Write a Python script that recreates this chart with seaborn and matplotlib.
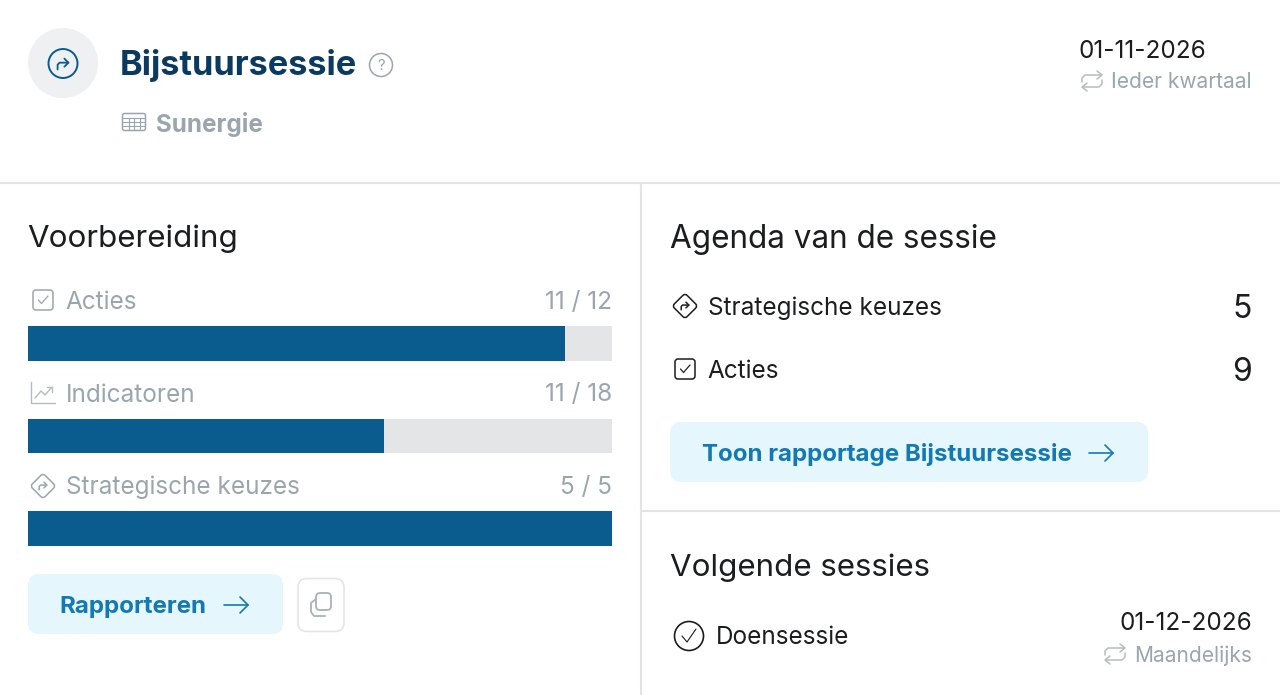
#!/usr/bin/env python
from matplotlib import patches
from matplotlib import pyplot as plt
from matplotlib import transforms
import numpy as np
import pandas as pd
import seaborn as sns

CATEGORIES = ['Acties', 'Indicatoren', 'Strategische keuzes']
DONE = [11, 11, 5]
TOTAL = [12, 18, 5]
AGENDA_LABELS = ['Strategische keuzes', 'Acties']
AGENDA_COUNTS = [5, 9]

BLUE = '#0a5c8f'
NAVY = '#0b3a60'
LINK = '#1279b4'
TRACK = '#e3e5e7'
GREY = '#9aa5ae'
DARK = '#1b1d1f'
RULE = '#e2e4e6'
PALE = '#e5f6fd'
ICON = '#b4bcc3'


def pt(px):
  """Font size in points for a size in pixels at dpi 100."""
  return px * 0.72


def arrow(ax, x, y, color, size=1.0, lw=1.1):
  """Small bent 'turn right' arrow centred on x, y."""
  s = size
  ax.plot([x - 4*s, x - 4*s, x - 2.5*s, x + 4*s],
          [y + 4*s, y + 0.5*s, y - 1*s, y - 1*s],
          color=color, lw=lw, solid_capstyle='round', solid_joinstyle='round')
  ax.plot([x + 1*s, x + 4*s, x + 1*s], [y - 4*s, y - 1*s, y + 2*s],
          color=color, lw=lw, solid_capstyle='round', solid_joinstyle='round')


def diamond_icon(ax, x, y, color, lw=1.1):
  turn = transforms.Affine2D().rotate_deg_around(x, y, 45)
  ax.add_patch(patches.FancyBboxPatch(
      (x - 9, y - 9), 18, 18, boxstyle='round,pad=0,rounding_size=3',
      fc='none', ec=color, lw=lw, transform=turn + ax.transData))
  arrow(ax, x, y, color, size=0.95, lw=lw)


def check_icon(ax, x, y, color, lw=1.1):
  ax.add_patch(patches.FancyBboxPatch(
      (x - 10, y - 10), 20, 20, boxstyle='round,pad=0,rounding_size=3',
      fc='none', ec=color, lw=lw))
  ax.plot([x - 4.5, x - 1.5, x + 5], [y, y + 3.5, y - 4], color=color, lw=lw*0.8)


def chart_icon(ax, x, y, color):
  ax.plot([x - 12, x - 12, x + 12], [y - 11, y + 10, y + 10], color=color, lw=1.0)
  ax.plot([x - 8, x - 2, x + 2, x + 9], [y + 5, y - 2, y + 2, y - 6], color=color, lw=1.0)
  ax.plot([x + 4, x + 9, x + 9], [y - 6, y - 6, y - 1], color=color, lw=1.0)


def repeat_icon(ax, x, y, color):
  ax.plot([x - 10, x - 10, x - 7, x + 9], [y + 1, y - 3, y - 6, y - 6], color=color, lw=1.1)
  ax.plot([x + 5, x + 10, x + 5], [y - 10, y - 6, y - 2], color=color, lw=1.1)
  ax.plot([x + 10, x + 10, x + 7, x - 9], [y - 1, y + 3, y + 6, y + 6], color=color, lw=1.1)
  ax.plot([x - 5, x - 10, x - 5], [y + 10, y + 6, y + 2], color=color, lw=1.1)


def long_arrow(ax, x0, x1, y, color):
  ax.plot([x0, x1], [y, y], color=color, lw=1.2)
  ax.plot([x1 - 8, x1, x1 - 8], [y - 8, y, y + 8], color=color, lw=1.2)


def button(ax, x, y, w, h, fc, ec='none', r=11):
  ax.add_patch(patches.FancyBboxPatch(
      (x, y), w, h, boxstyle=f'round,pad=0,rounding_size={r}',
      fc=fc, ec=ec, lw=1.2))


def draw_bars(fig):
  # bars occupy 326..546 px vertically, 28..612 px horizontally
  bar_ax = fig.add_axes([28/1280, 1 - 546/695, 584/1280, 220/695])
  # the widths in the picture are whole percentages
  data = pd.DataFrame({'categorie': CATEGORIES,
                       'klaar': np.round(np.array(DONE) / np.array(TOTAL), 2),
                       'vol': 1.0})
  sns.barplot(data=data, y='categorie', x='vol', color=TRACK, width=0.372,
              saturation=1, linewidth=0, ax=bar_ax)
  sns.barplot(data=data, y='categorie', x='klaar', color=BLUE, width=0.372,
              saturation=1, linewidth=0, ax=bar_ax)
  bar_ax.set_xlim(0, 1)
  bar_ax.set_ylim(2.186, -0.186)
  bar_ax.axis('off')


def main():
  sns.set_theme(style='white')
  plt.rcParams['font.family'] = ['Inter', 'DejaVu Sans']
  fig = plt.figure(figsize=(12.8, 6.95), dpi=100, facecolor='white')

  ax = fig.add_axes([0, 0, 1, 1])
  ax.set_xlim(0, 1280)
  ax.set_ylim(695, 0)
  ax.axis('off')

  # rules between the panels
  ax.plot([0, 1280], [183, 183], color=RULE, lw=1.5)
  ax.plot([641, 641], [183, 695], color=RULE, lw=1.5)
  ax.plot([641, 1280], [511, 511], color=RULE, lw=1.5)

  # header
  ax.add_patch(patches.Circle((63, 63), 35, fc='#eef0f2', ec='none'))
  ax.add_patch(patches.Circle((63, 63.5), 14.5, fc='none', ec=BLUE, lw=1.4))
  arrow(ax, 63, 64, BLUE, size=1.35, lw=1.3)
  ax.text(119.5, 62, 'Bijstuursessie', fontsize=pt(34.35), fontweight='bold',
          color=NAVY, va='center_baseline')
  ax.add_patch(patches.Circle((381, 65), 11.5, fc='none', ec=GREY, lw=1.1))
  ax.text(381, 65, '?', fontsize=pt(15), color=GREY, ha='center', va='center_baseline')

  ax.add_patch(patches.FancyBboxPatch(
      (122.5, 113.5), 23, 17, boxstyle='round,pad=0,rounding_size=2',
      fc='none', ec=GREY, lw=1.1))
  for gx in [129, 134, 140]:
    ax.plot([gx, gx], [118, 130], color=GREY, lw=0.8)
  for gy in [118, 122, 126]:
    ax.plot([123, 145], [gy, gy], color=GREY, lw=0.8)
  ax.text(156, 122, 'Sunergie', fontsize=pt(24.2), fontweight='bold', color=GREY,
          va='center_baseline')

  ax.text(1206, 48.5, '01-11-2026', fontsize=pt(24.3), color=DARK, ha='right',
          va='center_baseline')
  repeat_icon(ax, 1092, 81, ICON)
  ax.text(1252, 80.5, 'Ieder kwartaal', fontsize=pt(21), color=GREY, ha='right',
          va='center_baseline')

  # Voorbereiding
  ax.text(27.5, 236, 'Voorbereiding', fontsize=pt(31.3), color=DARK, va='center_baseline')
  label_y = [300, 392.5, 485]
  for name, done, total, y in zip(CATEGORIES, DONE, TOTAL, label_y):
    ax.text(65.5, y, name, fontsize=pt(24.3), color=GREY, va='center_baseline')
    ax.text(612, y, f'{done} / {total}', fontsize=pt(24.3), color=GREY, ha='right',
            va='center_baseline')
  check_icon(ax, 43, 300, GREY)
  chart_icon(ax, 43, 393, ICON)
  diamond_icon(ax, 43, 486, GREY)

  button(ax, 28, 574, 255, 60, PALE)
  ax.text(59.5, 604.5, 'Rapporteren', fontsize=pt(24.1), fontweight='bold', color=LINK,
          va='center_baseline')
  long_arrow(ax, 224, 248, 605, LINK)
  button(ax, 298, 578.5, 46, 53, 'white', ec='#e3e5e7', r=9)
  ax.add_patch(patches.FancyBboxPatch(
      (316, 593), 15, 17, boxstyle='round,pad=0,rounding_size=4',
      fc='none', ec='#a9b2ba', lw=1.3))
  ax.plot([316, 311, 311, 314, 325], [599, 603, 612, 616, 616], color='#a9b2ba', lw=1.3)

  # Agenda
  ax.text(670, 236, 'Agenda van de sessie', fontsize=pt(31.5), color=DARK,
          va='center_baseline')
  for name, count, y in zip(AGENDA_LABELS, AGENDA_COUNTS, [306, 369]):
    ax.text(707.5, y, name, fontsize=pt(24.3), color=DARK, va='center_baseline')
    ax.text(1252, y, str(count), fontsize=pt(32), color=DARK, ha='right',
            va='center_baseline')
  diamond_icon(ax, 685, 306, DARK)
  check_icon(ax, 685, 369, DARK)

  button(ax, 670, 422, 478, 60, PALE)
  ax.text(702, 452.5, 'Toon rapportage Bijstuursessie', fontsize=pt(24.05),
          fontweight='bold', color=LINK, va='center_baseline')
  long_arrow(ax, 1089, 1113, 453, LINK)

  # Volgende sessies
  ax.text(670, 564.5, 'Volgende sessies', fontsize=pt(31.3), color=DARK,
          va='center_baseline')
  ax.add_patch(patches.Circle((689, 636), 14.5, fc='none', ec=DARK, lw=1.2))
  ax.plot([682, 687, 696], [636, 642, 629], color=DARK, lw=0.8)
  ax.text(715.5, 635.5, 'Doensessie', fontsize=pt(24.3), color=DARK, va='center_baseline')
  ax.text(1252, 621.5, '01-12-2026', fontsize=pt(24.3), color=DARK, ha='right',
          va='center_baseline')
  repeat_icon(ax, 1115, 654, ICON)
  ax.text(1252, 653.5, 'Maandelijks', fontsize=pt(21), color=GREY, ha='right',
          va='center_baseline')

  draw_bars(fig)
  fig.savefig('out.png', dpi=100)
  plt.close('all')


##############################################
if __name__ == '__main__':
  main()
